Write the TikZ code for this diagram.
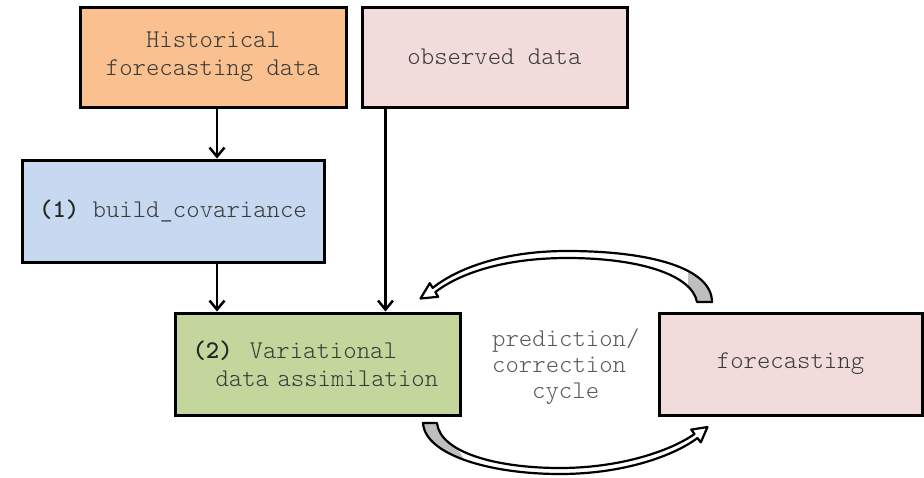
\documentclass[tikz,border=0pt]{standalone}
\usepackage{fontspec}
\setmonofont{Latin Modern Mono Light}
\usetikzlibrary{arrows.meta,positioning}
\definecolor{orangefill}{HTML}{FAC090}
\definecolor{pinkfill}{HTML}{F2DCDB}
\definecolor{bluefill}{HTML}{C6D9F1}
\definecolor{greenfill}{HTML}{C3D69B}
\definecolor{txtgray}{HTML}{3A3A3A}
\definecolor{cyclegray}{HTML}{5A5A5A}
\definecolor{ribbongray}{HTML}{BEBEBE}
\tikzset{
  box/.style={draw=black, line width=3pt, minimum height=100pt, inner sep=0pt,
    font=\ttfamily\fontsize{25.5}{28}\selectfont, text=txtgray, align=center},
  arr/.style={draw=black, line width=2.5pt, -{Straight Barb[length=9pt,width=15pt,line width=2.5pt]}},
  ribbon/.style={fill=white, draw=black, line width=2.2pt, line join=round},
}
\begin{document}
\begin{tikzpicture}[x=1pt,y=-1pt]
\useasboundingbox (0,0) rectangle (924,477);
\fill[white] (0,0) rectangle (924,477);

\node[box, fill=orangefill, minimum width=266pt] (hist) at (213,57) {Historical\\forecasting data};
\node[box, fill=pinkfill, minimum width=265pt] (obs) at (494.5,57) {observed data};
\node[box, fill=bluefill, minimum width=302pt, minimum height=102pt] (build) at (173,211) {{\bfseries\color{black!85}(1)} build\_covariance};
\node[box, fill=greenfill, minimum width=285pt, minimum height=102pt, text width=250pt, align=left] (var) at (317.5,364) {{\bfseries\color{black!85}(2)}\ \ Variational\\\hspace*{23pt}data assimilation};
\node[box, fill=pinkfill, minimum width=263pt, minimum height=102pt] (fore) at (790.5,364) {forecasting};

\node[font=\ttfamily\fontsize{25.5}{26}\selectfont, text=cyclegray, align=left, inner sep=0pt, anchor=west] (cyc) at (492,367) {prediction/\\correction\\\hspace*{40pt}cycle};

\draw[arr] ([xshift=4pt]hist.south) -- ([xshift=4pt]hist.south |- build.north);
\draw[arr] ([xshift=4pt]hist.south |- build.south) -- ([xshift=4pt]hist.south |- var.north);
\draw[arr] ([xshift=25pt]obs.south west) -- ([xshift=25pt]obs.south west |- var.north);

% top curved arrow (forecasting -> assimilation)
\def\toppath{(712,302) .. controls (712,268) and (650,251) .. (567,251) .. controls (500,251) and (455,270) .. (432.7,287.9) -- (429.8,283.2) -- (420.5,298.5) -- (438.2,296.8) -- (435.3,292.1) .. controls (460,273) and (505,258) .. (567,258) .. controls (640,258) and (692,275) .. (697,302) -- cycle}
\fill[white] \toppath;
\begin{scope}
  \clip \toppath;
  \fill[ribbongray] (688,272) rectangle (720,310);
\end{scope}
\draw[ribbon, fill=none] \toppath;

% bottom curved arrow (assimilation -> forecasting)
\def\botpath{(423,423) .. controls (425,455) and (490,474) .. (560,474) .. controls (625,474) and (675,455) .. (697.5,438) -- (700.8,442.4) -- (707.5,427) -- (691.2,429.6) -- (694.5,434) .. controls (672,450) and (622,468) .. (560,468) .. controls (495,468) and (440,452) .. (437,423) -- cycle}
\fill[white] \botpath;
\begin{scope}
  \clip \botpath;
  \fill[ribbongray] (415,418) -- (440,418) -- (470,470) -- (415,470) -- cycle;
\end{scope}
\draw[ribbon, fill=none] \botpath;
\end{tikzpicture}
\end{document}
